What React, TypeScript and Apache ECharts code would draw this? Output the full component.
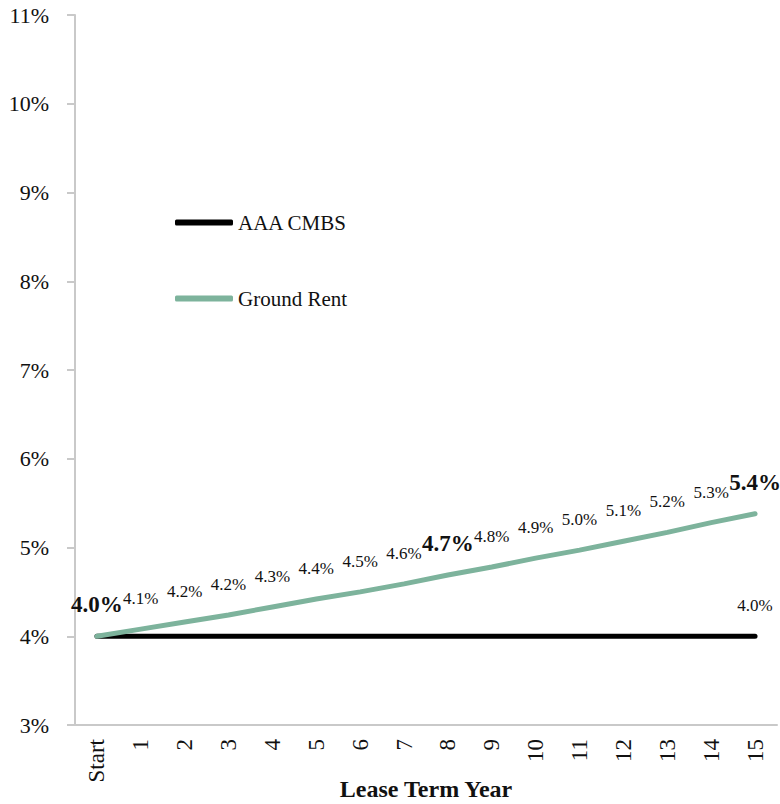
import React, { useEffect, useRef } from "react";
import * as echarts from "echarts";

const categories = ["Start", "1", "2", "3", "4", "5", "6", "7", "8", "9", "10", "11", "12", "13", "14", "15"];
const aaaCmbs = [4.0, 4.0, 4.0, 4.0, 4.0, 4.0, 4.0, 4.0, 4.0, 4.0, 4.0, 4.0, 4.0, 4.0, 4.0, 4.0];
const groundRent = [4.0, 4.08, 4.16, 4.24, 4.33, 4.42, 4.5, 4.59, 4.69, 4.78, 4.88, 4.97, 5.07, 5.17, 5.28, 5.38];
const boldLabelIdx = [0, 8, 15];
const aaaLabelIdx = [15];
const yTicksMin = 3;
const yTicksMax = 11;

const FONT = "'Liberation Serif', 'DejaVu Serif', serif";
const AXIS_GRAY = "#c9c9c9";
const GREEN = "#7db39c";

export default function App() {
  const ref = useRef<HTMLDivElement>(null);
  useEffect(() => {
    document.body.style.margin = "0";
    const chart = echarts.init(ref.current!, null, { renderer: "svg" });
    const fmt = (v: number) => v.toFixed(1) + "%";
    chart.setOption({
      animation: false,
      backgroundColor: "#ffffff",
      textStyle: { fontFamily: FONT },
      grid: { left: 75, right: 3, top: 15, bottom: 79, containLabel: false, outerBoundsMode: "none" },
      legend: {
        orient: "vertical",
        left: 170,
        top: 207,
        itemWidth: 58,
        itemHeight: 6,
        itemGap: 55,
        icon: "roundRect",
        textStyle: { fontFamily: FONT, fontSize: 21, color: "#111" },
        data: ["AAA CMBS", "Ground Rent"],
      },
      xAxis: {
        type: "category",
        data: categories,
        boundaryGap: true,
        axisLine: { show: true, lineStyle: { color: AXIS_GRAY, width: 2 } },
        axisTick: { show: false },
        axisLabel: {
          rotate: 90,
          margin: 14,
          interval: 0,
          fontFamily: FONT,
          fontSize: 23,
          color: "#111",
        },
        name: "Lease Term Year",
        nameLocation: "middle",
        nameGap: 52,
        nameMoveOverlap: false,
        nameTextStyle: { fontFamily: FONT, fontSize: 24, lineHeight: 24, fontWeight: "bold", color: "#111" },
      },
      yAxis: {
        type: "value",
        min: yTicksMin,
        max: yTicksMax,
        interval: 1,
        axisLine: { show: true, lineStyle: { color: AXIS_GRAY, width: 2 } },
        axisTick: { show: true, length: 8, lineStyle: { color: AXIS_GRAY, width: 2 } },
        splitLine: { show: false },
        axisLabel: {
          formatter: "{value}%",
          margin: 26,
          fontFamily: FONT,
          fontSize: 22,
          color: "#111",
        },
      },
      series: [
        {
          name: "AAA CMBS",
          type: "line",
          symbol: "circle",
          symbolSize: 0,
          showSymbol: true,
          color: "#000000",
          lineStyle: { color: "#000000", width: 5, cap: "round" },
          data: aaaCmbs.map((v, i) => ({
            value: v,
            label: {
              show: aaaLabelIdx.includes(i),
              position: "top",
              distance: 22,
              formatter: () => fmt(v),
              fontFamily: FONT,
              fontSize: 17,
              color: "#111",
            },
          })),
        },
        {
          name: "Ground Rent",
          type: "line",
          symbol: "circle",
          symbolSize: 0,
          showSymbol: true,
          color: GREEN,
          lineStyle: { color: GREEN, width: 5, cap: "round" },
          data: groundRent.map((v, i) => {
            const bold = boldLabelIdx.includes(i);
            return {
              value: v,
              label: {
                show: true,
                position: "top",
                distance: bold ? 20 : 22,
                formatter: () => fmt(v),
                fontFamily: FONT,
                fontSize: bold ? 23 : 17,
                fontWeight: bold ? "bold" : "normal",
                color: "#111",
              },
            };
          }),
        },
      ],
    });
    return () => chart.dispose();
  }, []);
  return <div ref={ref} style={{ width: 780, height: 804 }} />;
}
